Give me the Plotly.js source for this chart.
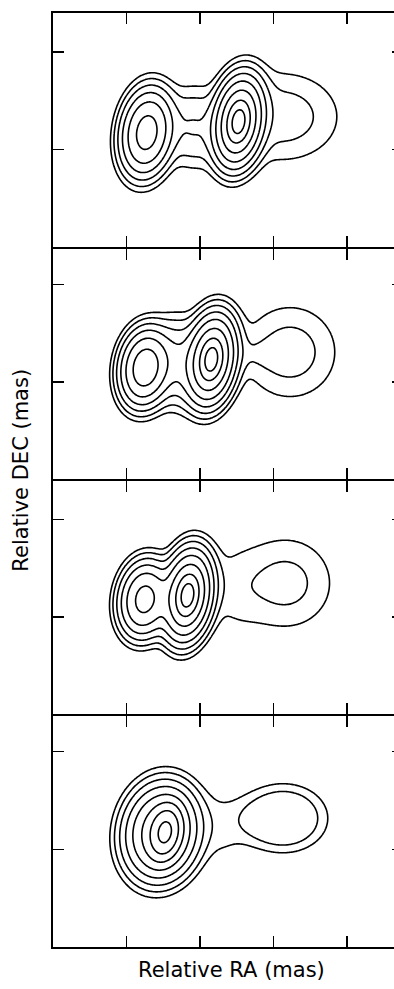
<!DOCTYPE html>
<html><head><meta charset="utf-8">
<script src="https://cdn.plot.ly/plotly-3.0.1.min.js"></script>
<style>html,body{margin:0;padding:0;overflow:hidden;background:#fff;width:394px;height:989px}#chart{width:410px;height:989px}</style>
</head><body><div id="chart"></div><script>
// Contour levels (doubling)
const contourLevels = [1, 2, 4, 8, 16, 32, 64, 128];
const epochs = ['Epoch 1', 'Epoch 2', 'Epoch 3', 'Epoch 4'];
// Model components: position (mas), peak, widths (mas), PA (deg), profile exponent
const compRA = [
  [1.912, 3.786, 3.786, 2.857, 4.673],
  [1.878, 3.231, 3.231, 2.551, 4.837, 4.082],
  [1.867, 2.745, 2.745, 4.75, 3.653],
  [2.292, 2.204, 3.51, 4.694]
];
const compDEC = [
  [2.347, 2.571, 2.571, 2.449, 2.673],
  [2.292, 2.463, 2.463, 2.408, 2.612, 2.571],
  [2.361, 2.443, 2.443, 2.694, 2.551],
  [2.351, 2.351, 2.486, 2.637]
];
const compPeak = [
  [43, 86, 110, 3.87, 2.8],
  [49.5, 86, 110, 8, 2.74, 0.75],
  [40.7, 86, 110, 2.5, 0.95],
  [110, 53, 1.3, 2.96]
];
const compSigX = [
  [0.265, 0.237, 0.104, 0.33, 0.78],
  [0.255, 0.237, 0.104, 0.286, 0.643, 0.367],
  [0.259, 0.237, 0.104, 0.66, 0.4],
  [0.163, 0.367, 0.37, 0.633]
];
const compSigY = [
  [0.449, 0.449, 0.2, 0.49, 0.61],
  [0.4, 0.449, 0.2, 0.49, 0.643, 0.204],
  [0.392, 0.449, 0.2, 0.649, 0.62],
  [0.278, 0.48, 0.53, 0.49]
];
const compPA = [
  [8, 8, 8, 0, 0],
  [8, 8, 8, 0, 0, 0],
  [8, 8, 8, 0, 0],
  [10, 10, 0, 0]
];
const compExp = [
  [1, 1, 1, 1, 1],
  [1, 1, 1, 1, 1, 1],
  [1, 1, 1, 1, 1],
  [1, 1, 1, 2]
];
const xTickVals = [1.5, 3, 4.5, 6];
const yTickVals = [2, 4];
const xRange = [0, 7.143];
const panelHeights = [4.796, 4.735, 4.796, 4.735];
const g = 0.00086;
const panelDomains = [[0.7484 + g, 1], [0.5 + g, 0.7484 - g], [0.2484 + g, 0.5 - g], [0, 0.2484 - g]];

const step = 0.025;
const traces = [];
const layout = {
  width: 410, height: 989,
  margin: {l: 53, r: 7, t: 13, b: 42},
  paper_bgcolor: '#fff', plot_bgcolor: '#fff',
  showlegend: false,
  annotations: [
    {text: 'Relative RA (mas)', xref: 'paper', yref: 'paper', x: 0.511, y: -0.025, xanchor: 'center', yanchor: 'middle', showarrow: false, font: {family: 'DejaVu Sans', size: 21, color: '#000'}},
    {text: 'Relative DEC (mas)', xref: 'paper', yref: 'paper', x: -0.0914, y: 0.51, xanchor: 'center', yanchor: 'middle', textangle: -90, showarrow: false, font: {family: 'DejaVu Sans', size: 21, color: '#000'}}
  ]
};
for (let p = 0; p < 4; p++) {
  const xs = [], ys = [];
  for (let x = xRange[0]; x <= xRange[1] + 1e-9; x += step) xs.push(+x.toFixed(4));
  for (let y = 0; y <= panelHeights[p] + 1e-9; y += step) ys.push(+y.toFixed(4));
  const z = ys.map(y => xs.map(x => {
    let f = 0;
    for (let k = 0; k < compRA[p].length; k++) {
      const a = compPA[p][k] * Math.PI / 180;
      const dx = x - compRA[p][k], dy = y - compDEC[p][k];
      const u = dx * Math.cos(a) - dy * Math.sin(a);
      const v = dx * Math.sin(a) + dy * Math.cos(a);
      const q = 0.5 * (u * u / (compSigX[p][k] ** 2) + v * v / (compSigY[p][k] ** 2));
      f += compPeak[p][k] * Math.exp(-Math.pow(q, compExp[p][k]));
    }
    return Math.log2(Math.max(f, 1e-4));
  }));
  const n = p + 1;
  traces.push({
    type: 'contour', name: epochs[p], x: xs, y: ys, z: z,
    xaxis: 'x' + (n === 1 ? '' : n), yaxis: 'y' + (n === 1 ? '' : n),
    autocontour: false,
    contours: {start: Math.log2(contourLevels[0]), end: Math.log2(contourLevels[contourLevels.length - 1]), size: 1, coloring: 'lines'},
    colorscale: [[0, '#000'], [1, '#000']], showscale: false,
    line: {width: 1.6, smoothing: 1.3}, hoverinfo: 'skip'
  });
  const axBase = {showgrid: false, zeroline: false, showline: true, mirror: 'allticks', linecolor: '#000', linewidth: 1.6,
    ticks: 'inside', ticklen: 11, tickwidth: 1.6, tickcolor: '#000', showticklabels: false};
  layout['xaxis' + (n === 1 ? '' : n)] = Object.assign({}, axBase, {domain: [0, 1], range: xRange, tickvals: xTickVals, anchor: 'y' + (n === 1 ? '' : n)});
  layout['yaxis' + (n === 1 ? '' : n)] = Object.assign({}, axBase, {domain: panelDomains[p], range: [0, panelHeights[p]], tickvals: yTickVals, anchor: 'x' + (n === 1 ? '' : n)});
}
Plotly.newPlot('chart', traces, layout, {displayModeBar: false, staticPlot: true});
</script></body></html>
